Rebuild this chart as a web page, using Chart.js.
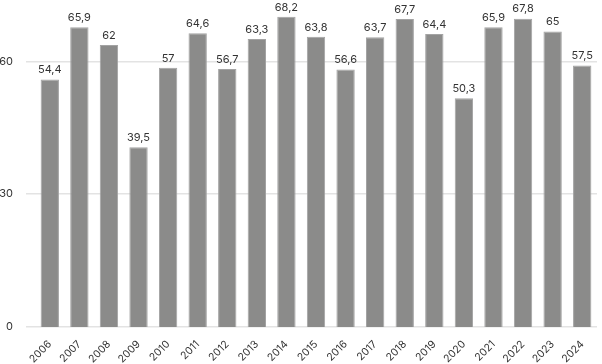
<!DOCTYPE html>
<html>
<head>
<meta charset="utf-8">
<script src="https://cdn.jsdelivr.net/npm/chart.js@4"></script>
<style>
  body { margin: 0; background: #fff; }
  #wrap { width: 602px; height: 364px; }
</style>
</head>
<body>
<div id="wrap"><canvas id="chart" width="602" height="364"></canvas></div>
<script>
const years = ["2006", "2007", "2008", "2009", "2010", "2011", "2012", "2013", "2014", "2015",
  "2016", "2017", "2018", "2019", "2020", "2021", "2022", "2023", "2024"];
const values = [54.4, 65.9, 62, 39.5, 57, 64.6, 56.7, 63.3, 68.2, 63.8,
  56.6, 63.7, 67.7, 64.4, 50.3, 65.9, 67.8, 65, 57.5];
const yTicks = [0, 30, 60];

// labels on top of each bar, comma decimal
const barLabels = {
  id: "barLabels",
  afterDatasetsDraw(chart) {
    const ctx = chart.ctx;
    const meta = chart.getDatasetMeta(0);
    ctx.save();
    ctx.font = "11px Inter";
    ctx.fillStyle = "#333";
    ctx.textAlign = "center";
    ctx.textBaseline = "bottom";
    meta.data.forEach((bar, i) => {
      ctx.fillText(String(values[i]).replace(".", ","), bar.x, bar.y - 4);
    });
    ctx.restore();
  },
};

const chart = new Chart("chart", {
  type: "bar",
  data: {
    labels: years,
    datasets: [
      {
        data: values,
        backgroundColor: "#8b8b8a",
        borderColor: "#a3a3a3",
        borderWidth: 1,
        barPercentage: 0.62,
        categoryPercentage: 1,
        yAxisID: "y",
      },
    ],
  },
  options: {
    responsive: false,
    animation: false,
    layout: { padding: { top: 10, right: 5, left: 0, bottom: 0 } },
    plugins: {
      legend: { display: false },
      tooltip: { enabled: false },
    },
    scales: {
      x: {
        grid: { display: false },
        border: { display: false },
        afterFit: (scale) => {
          scale.height = 37;
          scale.paddingLeft = 0;
          scale.paddingRight = 0;
        },
        ticks: {
          color: "#333",
          font: { family: "Inter", size: 10.5 },
          maxRotation: 45,
          minRotation: 45,
          padding: 3,
        },
      },
      y: {
        display: false,
        min: 0,
        max: 69.7,
      },
      // axis only for the gridlines and 0/30/60 labels
      yGrid: {
        position: "left",
        min: 0,
        max: 71.6,
        afterBuildTicks: (scale) => {
          scale.ticks = yTicks.map((v) => ({ value: v }));
        },
        afterFit: (scale) => {
          scale.width = 35;
          scale.paddingTop = 0;
          scale.paddingBottom = 0;
        },
        grid: { color: "#e3e3e3", lineWidth: 1.5, tickLength: 9 },
        border: { display: false },
        ticks: {
          color: "#333",
          font: { family: "Inter", size: 11 },
          padding: 13,
        },
      },
    },
  },
  plugins: [barLabels],
});
</script>
</body>
</html>
